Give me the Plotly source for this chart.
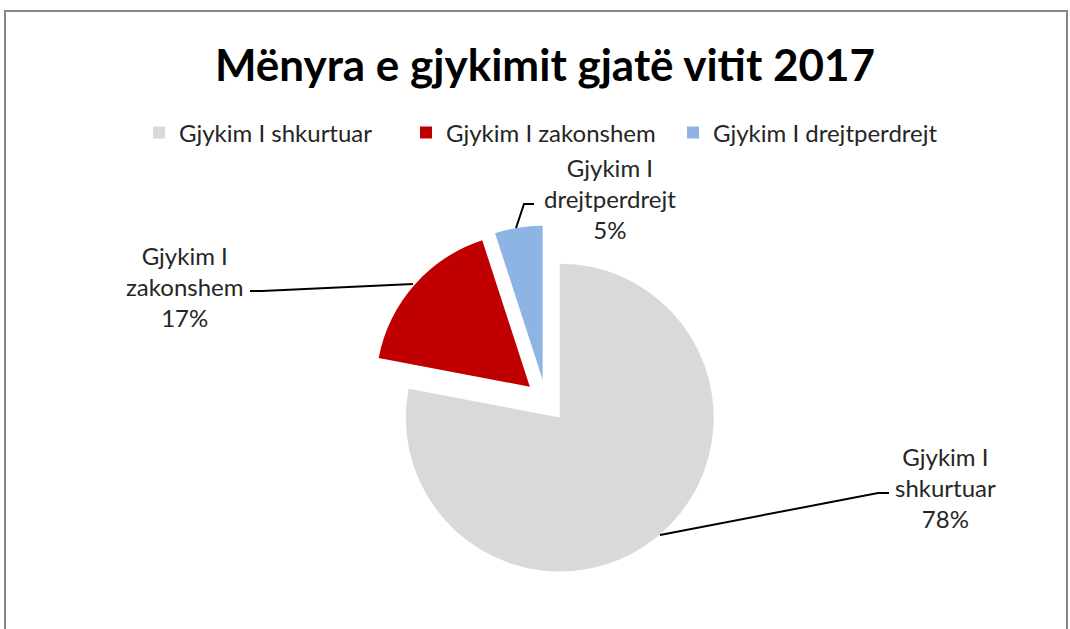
import plotly.graph_objects as go

# ---- data ----
categories = ["Gjykim I shkurtuar", "Gjykim I zakonshem", "Gjykim I drejtperdrejt"]
values = [78, 17, 5]
colors = ["#D9D9D9", "#C00000", "#8EB4E3"]
title_text = "Mënyra e gjykimit gjatë vitit 2017"

W, H = 1070, 629


def px(x):
    return x / W


def py(y):
    return 1 - y / H


FONT = "Lato, Calibri, Carlito, sans-serif"

fig = go.Figure(
    go.Pie(
        labels=categories,
        values=values,
        sort=False,
        direction="clockwise",
        rotation=0,
        pull=[0.14] * len(values),
        marker=dict(colors=colors, line=dict(width=0)),
        textinfo="none",
        hoverinfo="label+percent",
        domain=dict(x=[0.3463, 0.6743], y=[0.0835, 0.6415]),
    )
)

# data labels (text from the data arrays)
total = sum(values)
label_pos = [(945, 487), (184, 286), (610, 198)]  # pixel centres of label blocks
annotations = []
for cat, v, (lx, ly) in zip(categories, values, label_pos):
    parts = cat.split(" ", 2)
    txt = f"{parts[0]} {parts[1]}<br>{parts[2]}<br>{round(v / total * 100)}%"
    annotations.append(
        dict(
            x=px(lx), y=py(ly), xref="paper", yref="paper",
            text=txt, showarrow=False, align="center",
            xanchor="center", yanchor="middle",
            font=dict(family=FONT, size=24, color="#262626"),
        )
    )

# leader lines
leaders = [
    [(660, 535), (878, 493), (889, 493)],
    [(413, 284), (262, 291), (250, 291)],
    [(516, 228), (524, 204), (534, 204)],
]
shapes = []
for pts in leaders:
    path = "M " + " L ".join(f"{px(x)},{py(y)}" for x, y in pts)
    shapes.append(dict(type="path", xref="paper", yref="paper", path=path,
                       line=dict(color="black", width=2)))

# chart border
shapes.append(dict(type="rect", xref="paper", yref="paper",
                   x0=px(5), x1=px(1067), y0=py(640), y1=py(11),
                   line=dict(color="#878787", width=2)))

fig.update_layout(
    width=W, height=H,
    margin=dict(l=0, r=0, t=0, b=0),
    paper_bgcolor="white",
    plot_bgcolor="white",
    title=dict(text=f"<b>{title_text}</b>", x=px(545), xanchor="center",
               y=py(66), yanchor="middle",
               font=dict(family=FONT, size=44, color="black")),
    showlegend=True,
    legend=dict(orientation="h", x=px(139), xanchor="left", y=py(133), yanchor="middle",
                entrywidth=222, entrywidthmode="pixels",
                font=dict(family=FONT, size=24, color="#262626"),
                bgcolor="rgba(0,0,0,0)"),
    annotations=annotations,
    shapes=shapes,
)

fig.write_html("out.html", config={"displayModeBar": False},
               post_script="document.body.style.margin='0';")
